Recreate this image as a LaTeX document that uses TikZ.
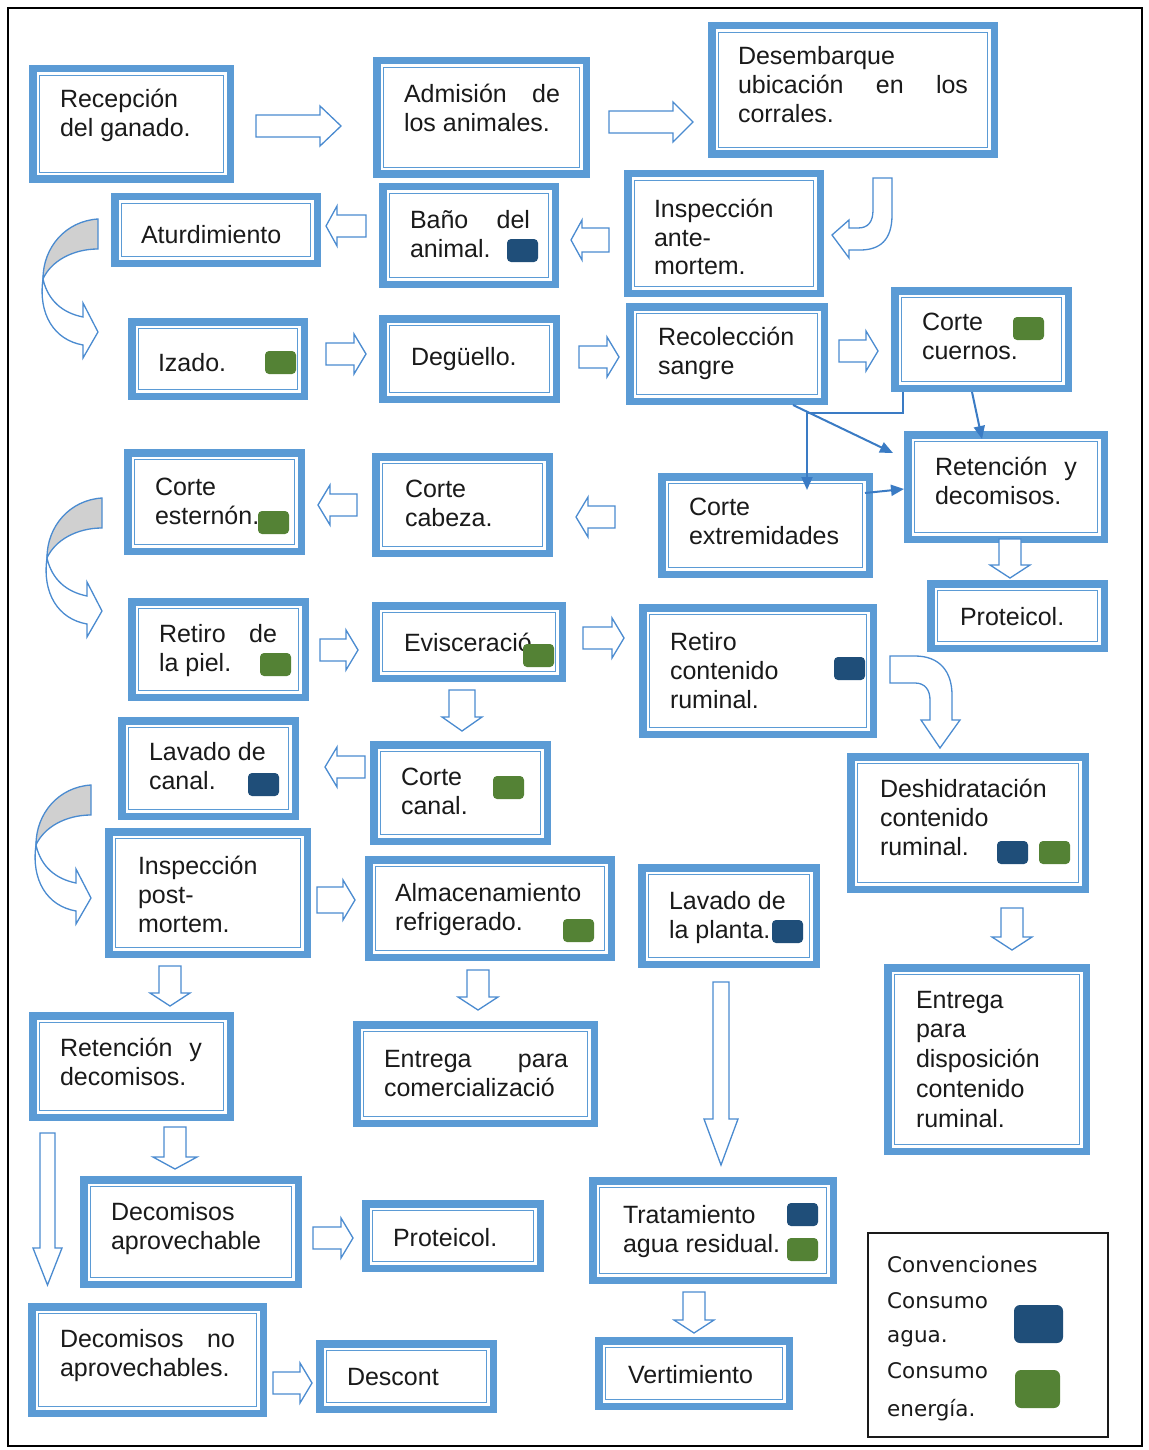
\documentclass[tikz,border=0pt]{standalone}
\usepackage{fontspec}
\setmainfont{Liberation Sans}
\newfontfamily\legfont{DejaVu Sans}
\usetikzlibrary{arrows.meta}
\definecolor{boxblue}{HTML}{5B9BD5}
\definecolor{arrblue}{HTML}{4A8BD0}
\definecolor{connblue}{HTML}{3A7BC4}
\definecolor{water}{HTML}{1F4E79}
\definecolor{energy}{HTML}{548235}
\definecolor{backgray}{HTML}{D0D0D0}
\definecolor{ink}{HTML}{1A1A1A}

\tikzset{
 boxnode/.style={draw=none, inner sep=0pt, outer sep=0pt, rectangle},
 outerb/.style={draw=boxblue, line width=7.5pt},
 innerb/.style={draw=boxblue, line width=1.5pt},
 txt/.style={inner sep=0pt, outer sep=0pt, text=ink, font=\fontsize{25}{29}\selectfont},
 barrow/.style={draw=arrblue, line width=1.3pt, fill=white, line join=miter},
 conn/.style={draw=connblue, line width=2pt, -{Triangle[length=13pt,width=11pt]}},
 garrow/.pic={
   \draw[barrow] (-55,60) .. controls (-50,82) and (-35,94) .. (-15,98) -- (-15,84) -- (0,113) -- (-15,139) -- (-15,126) .. controls (-44,121) and (-60,95) .. (-55,60) -- cycle;
   \draw[barrow, fill=backgray] (0,0) .. controls (-32,2) and (-55,28) .. (-55,60) .. controls (-47,42) and (-25,30) .. (0,30) -- cycle;
 }
}

\newcommand\pbox[5]{%
 \node[boxnode, minimum width={#4-#2}, minimum height={#5-#3}] (#1) at ({(#2+#4)/2},{(#3+#5)/2}) {};
 \draw[outerb] ({#2+3.75},{#3+3.75}) rectangle ({#4-3.75},{#5-3.75});
 \draw[innerb] ({#2+10.5},{#3+10.5}) rectangle ({#4-10.5},{#5-10.5});
}
\newcommand\tx[5]{\node[txt, anchor=base west] (#1) at (#2,#3) {\parbox[t]{#4pt}{\raggedright #5}};}
\newcommand\sqr[3]{\fill[#3, rounded corners=4pt] (#1,#2) rectangle ++(31,23);}
\newcommand\arH[6]{\draw[barrow] (#1,{#3-#4}) -- ({#2-(#6)},{#3-#4}) -- ({#2-(#6)},{#3-#5}) -- (#2,#3) -- ({#2-(#6)},{#3+#5}) -- ({#2-(#6)},{#3+#4}) -- (#1,{#3+#4}) -- cycle;}
\newcommand\arV[6]{\draw[barrow] ({#1-#4},#2) -- ({#1-#4},{#3-(#6)}) -- ({#1-#5},{#3-(#6)}) -- (#1,#3) -- ({#1+#5},{#3-(#6)}) -- ({#1+#4},{#3-(#6)}) -- ({#1+#4},#2) -- cycle;}
\newcommand\js[1]{\makebox[\linewidth][s]{#1}}

\begin{document}
\begin{tikzpicture}[x=1pt,y=-1pt]
\useasboundingbox (0,0) rectangle (1148,1450);
\fill[white] (0,0) rectangle (1148,1450);
\draw[black, line width=2pt] (8,8) rectangle (1142,1446);

% boxes
\pbox{recepcion}{29}{65}{234}{183}
\pbox{admision}{373}{57}{590}{178}
\pbox{desembarque}{708}{22}{998}{158}
\pbox{aturdimiento}{111}{193}{321}{267}
\pbox{bano}{379}{183}{559}{288}
\pbox{inspante}{624}{170}{824}{297}
\pbox{izado}{128}{318}{308}{400}
\pbox{deguello}{379}{315}{560}{403}
\pbox{recoleccion}{626}{303}{828}{405}
\pbox{cuernos}{891}{287}{1072}{392}
\pbox{retencionA}{904}{431}{1108}{543}
\pbox{extremidades}{658}{473}{873}{578}
\pbox{proteicolA}{927}{580}{1108}{652}
\pbox{cabeza}{372}{453}{553}{557}
\pbox{esternon}{124}{449}{305}{555}
\pbox{piel}{128}{598}{309}{701}
\pbox{evisceracion}{372}{602}{566}{682}
\pbox{retirocont}{639}{604}{877}{738}
\pbox{deshidratacion}{847}{753}{1089}{893}
\pbox{lavadocanal}{118}{717}{299}{820}
\pbox{cortecanal}{370}{741}{551}{845}
\pbox{insppost}{105}{828}{311}{958}
\pbox{almacen}{365}{856}{615}{961}
\pbox{lavadoplanta}{638}{864}{820}{968}
\pbox{entregarum}{884}{964}{1090}{1155}
\pbox{retencionB}{29}{1012}{234}{1121}
\pbox{entregacom}{353}{1021}{598}{1127}
\pbox{decaprov}{80}{1176}{302}{1288}
\pbox{proteicolB}{362}{1200}{544}{1272}
\pbox{tratamiento}{589}{1177}{837}{1284}
\pbox{decnoaprov}{28}{1303}{267}{1417}
\pbox{descont}{316}{1340}{497}{1413}
\pbox{vertimiento}{595}{1337}{793}{1410}

% texts
\tx{recepcion-t}{60}{108}{200}{Recepción\\del ganado.}
\tx{admision-t}{404}{103}{156}{\js{Admisión de}\\los animales.}
\tx{desembarque-t}{738}{65}{230}{Desembarque\\\js{ubicación en los}\\corrales.}
\tx{aturdimiento-t}{141}{243}{200}{Aturdimiento}
\tx{bano-t}{410}{228}{120}{\js{Baño del}\\animal.}
\tx{inspante-t}{654}{217}{200}{Inspección\\ante-\\mortem.}
\tx{izado-t}{158}{371}{150}{Izado.}
\tx{deguello-t}{411}{365}{150}{Degüello.}
\tx{recoleccion-t}{658}{345}{200}{Recolección\\sangre}
\tx{cuernos-t}{922}{330}{150}{Corte\\cuernos.}
\tx{retencionA-t}{935}{475}{142}{\js{Retención y}\\decomisos.}
\tx{extremidades-t}{689}{515}{200}{Corte\\extremidades}
\tx{proteicolA-t}{960}{625}{150}{Proteicol.}
\tx{cabeza-t}{405}{497}{150}{Corte\\cabeza.}
\tx{esternon-t}{155}{495}{150}{Corte\\esternón.}
\tx{piel-t}{159}{642}{118}{\js{Retiro de}\\la piel.}
\tx{evisceracion-t}{404}{651}{200}{Evisceració}
\tx{retirocont-t}{670}{650}{200}{Retiro\\contenido\\ruminal.}
\tx{deshidratacion-t}{880}{797}{220}{Deshidratación\\contenido\\ruminal.}
\tx{lavadocanal-t}{149}{760}{150}{Lavado de\\canal.}
\tx{cortecanal-t}{401}{785}{150}{Corte\\canal.}
\tx{insppost-t}{138}{874}{200}{Inspección\\post-\\mortem.}
\tx{almacen-t}{395}{901}{220}{Almacenamiento\\refrigerado.}
\tx{lavadoplanta-t}{669}{909}{150}{Lavado de\\la planta.}
\tx{entregarum-t}{916}{1008}{200}{\fontsize{25}{29.8}\selectfont Entrega\\para\\disposición\\contenido\\ruminal.}
\tx{retencionB-t}{60}{1056}{142}{\js{Retención y}\\decomisos.}
\tx{entregacom-t}{384}{1067}{184}{\js{Entrega para}\\comercializació}
\tx{decaprov-t}{111}{1220}{200}{Decomisos\\aprovechable}
\tx{proteicolB-t}{393}{1246}{150}{Proteicol.}
\tx{tratamiento-t}{623}{1223}{200}{Tratamiento\\agua residual.}
\tx{decnoaprov-t}{60}{1347}{175}{\js{Decomisos no}\\aprovechables.}
\tx{descont-t}{347}{1385}{150}{Descont}
\tx{vertimiento-t}{628}{1383}{150}{Vertimiento}

% consumption markers
\sqr{507}{239}{water}
\sqr{265}{351}{energy}
\sqr{1013}{317}{energy}
\sqr{258}{511}{energy}
\sqr{260}{653}{energy}
\sqr{523}{644}{energy}
\sqr{834}{657}{water}
\sqr{997}{841}{water}
\sqr{1039}{841}{energy}
\sqr{248}{773}{water}
\sqr{493}{776}{energy}
\sqr{563}{919}{energy}
\sqr{772}{920}{water}
\sqr{787}{1203}{water}
\sqr{787}{1238}{energy}

% legend
\node[draw=ink, line width=1.3pt, inner sep=0pt, minimum width=240, minimum height=204] (legend) at (988,1335) {};
\node[anchor=base west, inner sep=0pt, text=ink, font=\legfont\fontsize{21.5}{29}\selectfont] (leg-conv) at (887,1272) {Convenciones};
\node[anchor=base west, inner sep=0pt, text=ink, font=\legfont\fontsize{21.5}{34}\selectfont] (leg-agua) at (887,1308) {\parbox[t]{120pt}{Consumo\\agua.}};
\node[anchor=base west, inner sep=0pt, text=ink, font=\legfont\fontsize{21.5}{38}\selectfont] (leg-energia) at (887,1378) {\parbox[t]{120pt}{Consumo\\energía.}};
\fill[water, rounded corners=6pt] (1014,1305) rectangle (1063,1343);
\fill[energy, rounded corners=6pt] (1015,1370) rectangle (1060,1408);

% block arrows
\arH{256}{341}{126}{11}{20}{21}
\arH{609}{693}{122}{11}{20}{20}
\arH{609}{571}{240}{12}{20}{-11}
\arH{366}{326}{226}{11}{20}{-11}
\arH{326}{366}{354}{11}{20}{12}
\arH{579}{619}{357}{11}{20}{12}
\arH{839}{878}{351}{11}{20}{12}
\arH{615}{576}{517}{11}{20}{-12}
\arH{357}{318}{505}{11}{20}{-12}
\arH{320}{358}{650}{11}{20}{12}
\arH{583}{624}{638}{11}{20}{12}
\arH{365}{325}{767}{11}{20}{-12}
\arH{317}{355}{900}{13}{20}{12}
\arH{313}{353}{1238}{11}{20}{12}
\arH{273}{312}{1383}{11}{20}{12}
\arV{1010}{539}{578}{11}{20}{13}
\arV{462}{690}{731}{13}{20}{14}
\arV{1012}{908}{950}{11}{20}{13}
\arV{170}{966}{1006}{11}{20}{13}
\arV{478}{970}{1010}{11}{20}{13}
\arV{721}{982}{1165}{8}{17}{46}
\arV{694}{1292}{1333}{11}{20}{13}
\arV{175}{1127}{1169}{11}{22}{12}
\arV{47.5}{1133}{1285}{7.5}{14.5}{37}

% hook arrows
\draw[barrow] (873,178) -- (892,178) -- (892,215) .. controls (892,240) and (880,250) .. (860,250) -- (849,250) -- (849,258) -- (832,235) -- (849,220) -- (849,228) -- (858,228) .. controls (868,228) and (873,222) .. (873,210) -- cycle;
\draw[barrow] (890,656) -- (915,656) .. controls (940,656) and (952,672) .. (952,695) -- (952,720) -- (960,720) -- (940,748) -- (921,720) -- (930,720) -- (930,700) .. controls (930,690) and (925,683) .. (915,683) -- (890,683) -- cycle;

% curved arrows with grey back
\pic at (98,219) {garrow};
\pic at (102,498) {garrow};
\pic at (91,785) {garrow};

% thin connectors
\draw[conn] ([xshift=-35pt]recoleccion.south east) -- ([xshift=-11pt,yshift=-22pt]retencionA.north west);
\draw[conn] ([xshift=12pt]cuernos.south west) -- ++(0,21) -| ([xshift=149pt,yshift=-17pt]extremidades.north west);
\draw[conn] ([xshift=81pt]cuernos.south west) -- ([xshift=78pt,yshift=-8pt]retencionA.north west);
\draw[conn] ([xshift=-8pt,yshift=-20pt]extremidades.north east) -- ([yshift=-58pt]retencionA.north west);
\end{tikzpicture}
\end{document}
